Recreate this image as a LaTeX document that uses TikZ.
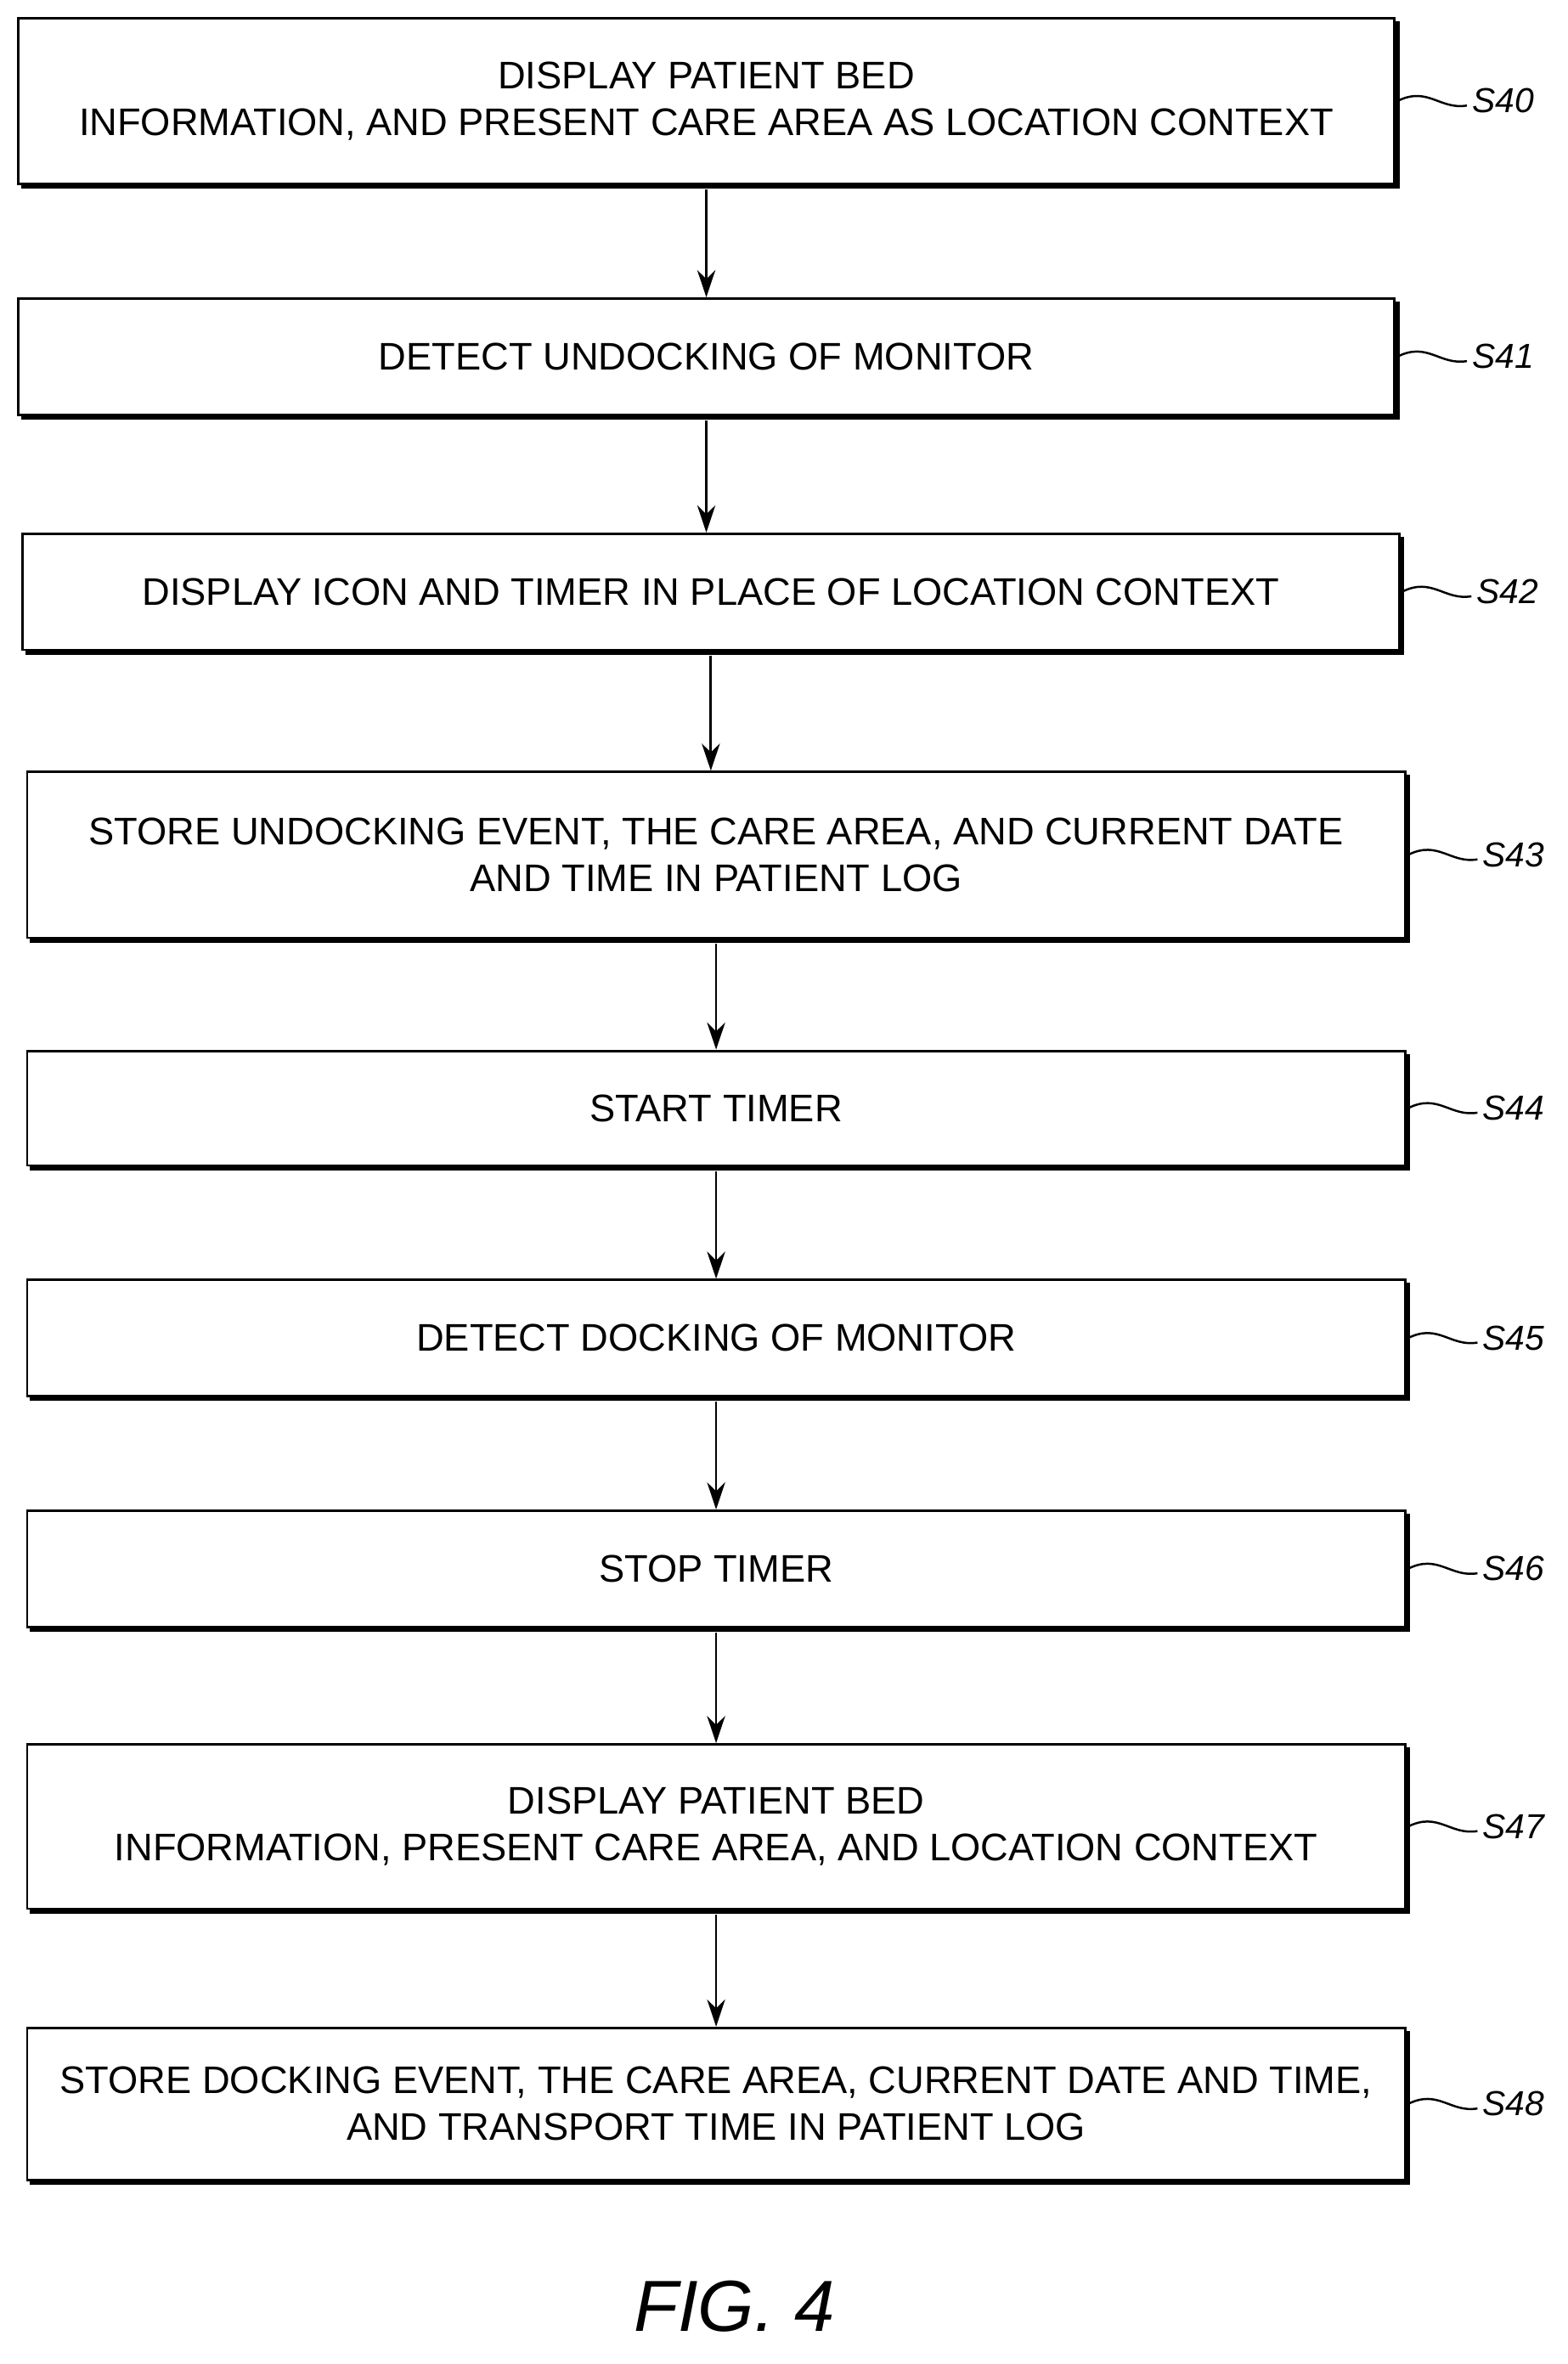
\documentclass[tikz,border=0pt]{standalone}
\usepackage{fontspec}
\setmainfont{Liberation Sans}
\usetikzlibrary{arrows.meta}
\begin{document}
\begin{tikzpicture}[x=1pt,y=-1pt,
  box/.style={draw,line width=1.6pt,rectangle,inner sep=0pt,align=center,font=\fontsize{25.5}{31}\selectfont},
  arr/.style={-{Stealth[length=18pt,width=12pt]},line width=1.6pt},
  lab/.style={font=\fontsize{23}{25}\selectfont\itshape},
  lead/.style={line width=1.4pt}]
\useasboundingbox (0,0) rectangle (1040,1568);
\fill[white] (0,0) rectangle (1040,1568);
\newcommand{\stepbox}[7]{%
  \node[box,minimum width={#3-#2},minimum height={#5-#4}] (#1) at ({(#2+#3)/2},{(#4+#5)/2}) {#6};
  \draw[line width=2.6pt] ({#2+2},{#5+2}) -- ({#3+2},{#5+2}) -- ({#3+2},{#4+2});
  \coordinate (#1l) at ({#3+48},{(#4+#5)/2+3});
  \draw[lead] ({#3+2},{(#4+#5)/2}) .. controls ({#3+22},{(#4+#5)/2-10}) and ({#3+30},{(#4+#5)/2+6}) .. (#1l);
  \node[lab,anchor=west] at ({#3+48},{(#4+#5)/2}) {#7};}
\stepbox{a}{12}{925}{12}{122}{DISPLAY PATIENT BED\\INFORMATION, AND PRESENT CARE AREA AS LOCATION CONTEXT}{S40}
\stepbox{b}{12}{925}{198}{275}{DETECT UNDOCKING OF MONITOR}{S41}
\stepbox{c}{15}{928}{354}{431}{DISPLAY ICON AND TIMER IN PLACE OF LOCATION CONTEXT}{S42}
\stepbox{d}{18}{932}{512}{622}{STORE UNDOCKING EVENT, THE CARE AREA, AND CURRENT DATE\\AND TIME IN PATIENT LOG}{S43}
\stepbox{e}{18}{932}{697}{773}{START TIMER}{S44}
\stepbox{f}{18}{932}{849}{926}{DETECT DOCKING OF MONITOR}{S45}
\stepbox{g}{18}{932}{1002}{1079}{STOP TIMER}{S46}
\stepbox{h}{18}{932}{1157}{1266}{DISPLAY PATIENT BED\\INFORMATION, PRESENT CARE AREA, AND LOCATION CONTEXT}{S47}
\stepbox{i}{18}{932}{1345}{1446}{STORE DOCKING EVENT, THE CARE AREA, CURRENT DATE AND TIME,\\AND TRANSPORT TIME IN PATIENT LOG}{S48}
\draw[arr] ([yshift=-3pt]a.south) -- (a.south |- b.north);
\draw[arr] ([yshift=-3pt]b.south) -- (b.south |- c.north);
\draw[arr] ([yshift=-3pt]c.south) -- (c.south |- d.north);
\draw[arr] ([yshift=-3pt]d.south) -- (d.south |- e.north);
\draw[arr] ([yshift=-3pt]e.south) -- (e.south |- f.north);
\draw[arr] ([yshift=-3pt]f.south) -- (f.south |- g.north);
\draw[arr] ([yshift=-3pt]g.south) -- (g.south |- h.north);
\draw[arr] ([yshift=-3pt]h.south) -- (h.south |- i.north);
\node[font=\fontsize{48}{52}\selectfont\itshape] (fig) at (487,1530) {FIG. 4};
\end{tikzpicture}
\end{document}
